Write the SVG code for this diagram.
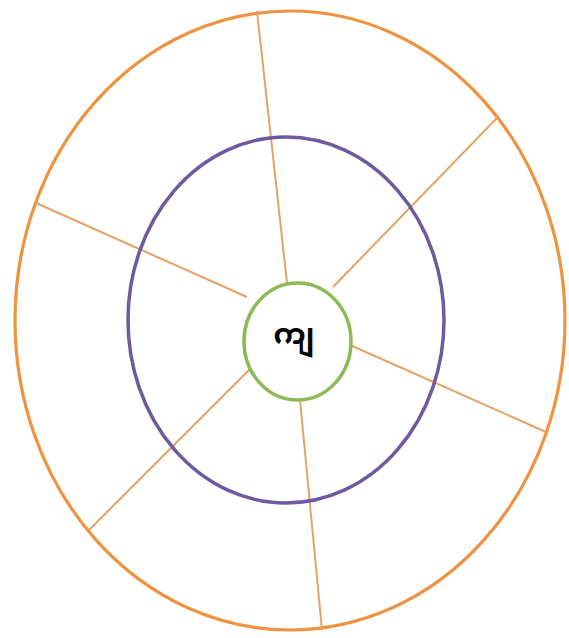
<svg xmlns="http://www.w3.org/2000/svg" width="569" height="638" viewBox="0 0 569 638">
<rect x="0" y="0" width="569" height="638" fill="#FFFFFF"/>
<g id="outer-ring"><ellipse cx="290" cy="320.5" rx="275" ry="309.5" fill="none" stroke="#EE9440" stroke-width="3.2"/></g>
<g id="connectors" stroke="#E6A264" stroke-width="2">
<line x1="257" y1="11" x2="287" y2="283"/>
<line x1="497" y1="118" x2="333" y2="287"/>
<line x1="36" y1="203" x2="247" y2="297"/>
<line x1="546" y1="432" x2="350" y2="345"/>
<line x1="89" y1="530" x2="251" y2="368"/>
<line x1="322" y1="630" x2="300" y2="400"/>
</g>
<g id="middle-ring"><ellipse cx="286" cy="320" rx="158" ry="183" fill="none" stroke="#6E5A9E" stroke-width="3.5"/></g>
<g id="center"><ellipse cx="297.5" cy="341.5" rx="53.5" ry="58.5" fill="#FFFFFF" stroke="#8CBB55" stroke-width="3.5"/>
<text x="294" y="344" text-anchor="middle" font-family="'Noto Sans Myanmar','Noto Sans','DejaVu Sans',sans-serif" font-size="29" font-weight="bold" fill="#000">ကျ</text></g>
</svg>
